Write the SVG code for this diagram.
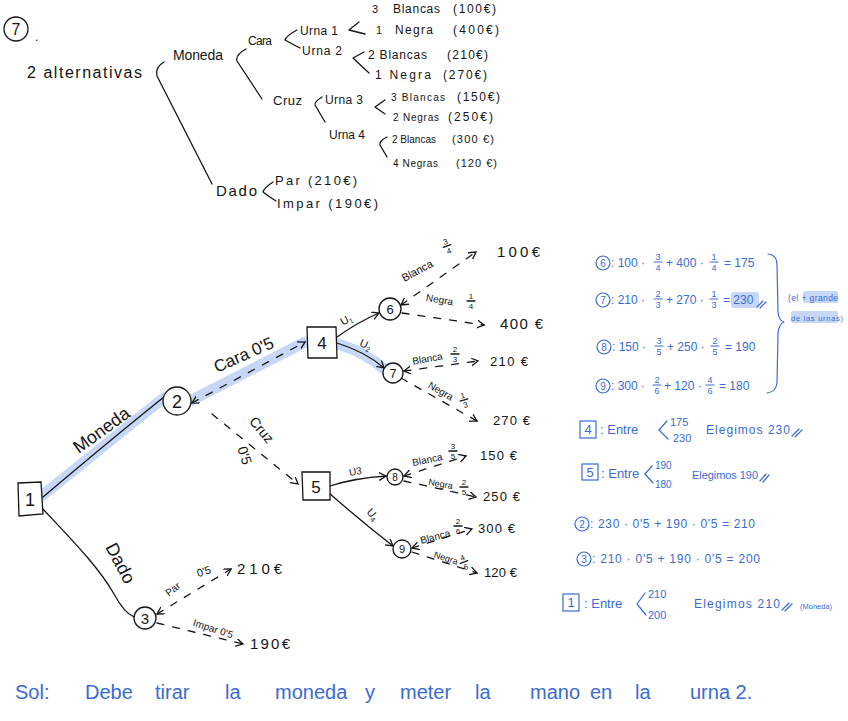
<svg xmlns="http://www.w3.org/2000/svg" width="848" height="721" viewBox="0 0 848 721">
<style>
.k{font-family:"Liberation Sans",Arial,sans-serif;fill:#151515}
.b{font-family:"Liberation Sans",Arial,sans-serif;fill:#3a6bd4}
.ln{fill:none;stroke:#151515;stroke-width:1.3;stroke-linecap:round;stroke-linejoin:round}
.bl{fill:none;stroke:#3a6bd4;stroke-width:1.2;stroke-linecap:round;stroke-linejoin:round}
.d{fill:none;stroke:#151515;stroke-width:1.3;stroke-dasharray:7 9;stroke-linecap:round}
.nd{fill:#fff;stroke:#151515;stroke-width:1.3}
.bn{fill:none;stroke:#3a6bd4;stroke-width:1.2}
.hl{fill:none;stroke:#c7d8f7;stroke-width:11;stroke-linecap:round;stroke-linejoin:round}
.hr{fill:#c7d8f7}
.m{text-anchor:middle}
</style>
<defs>
<marker id="ar" markerWidth="10" markerHeight="10" refX="7" refY="4" orient="auto-start-reverse" markerUnits="userSpaceOnUse">
<path d="M0,0 L7,4 L0,8" fill="none" stroke="#151515" stroke-width="1.3"/>
</marker>
</defs>

<!-- ===== Top outline ===== -->
<g id="outline">
<circle cx="16" cy="29" r="12" class="ln"/>
<text x="16" y="35" class="k m" font-size="16">7</text>
<text x="35" y="41" class="k" font-size="12">.</text>
<text x="27" y="78" class="k" font-size="16" textLength="115">2 alternativas</text>
<path class="ln" d="M164,62 Q155,67 157,76 L212,184"/>
<text x="173" y="60" class="k" font-size="14" textLength="50">Moneda</text>
<path class="ln" d="M246,49 Q235,55 237,61 L262,99"/>
<text x="248" y="45" class="k" font-size="12" textLength="24">Cara</text>
<path class="ln" d="M297,30 Q286,36 285,40 Q292,44 300,48"/>
<text x="300" y="35" class="k" font-size="12" textLength="38">Urna 1</text>
<text x="302" y="55" class="k" font-size="12" textLength="40">Urna 2</text>
<path class="ln" d="M359,22 L349,30 L365,34"/>
<text x="372" y="13" class="k" font-size="11">3</text>
<text x="393" y="13" class="k" font-size="12" textLength="47">Blancas</text>
<text x="453" y="13" class="k" font-size="12" textLength="43">(100€)</text>
<text x="376" y="34" class="k" font-size="11">1</text>
<text x="395" y="34" class="k" font-size="12" textLength="38">Negra</text>
<text x="453" y="34" class="k" font-size="12" textLength="46">(400€)</text>
<path class="ln" d="M364,52 L353,58 L369,73"/>
<text x="368" y="59" class="k" font-size="12" textLength="59">2 Blancas</text>
<text x="447" y="59" class="k" font-size="12" textLength="41">(210€)</text>
<text x="375" y="79" class="k" font-size="12" textLength="56">1 Negra</text>
<text x="443" y="79" class="k" font-size="12" textLength="44">(270€)</text>
<text x="273" y="105" class="k" font-size="13" textLength="29">Cruz</text>
<path class="ln" d="M322,97 Q314,102 315,105 L325,122"/>
<text x="325" y="104" class="k" font-size="12" textLength="38">Urna 3</text>
<text x="329" y="139" class="k" font-size="12" textLength="36">Urna 4</text>
<path class="ln" d="M385,100 L375,107 L385,114"/>
<text x="391" y="101" class="k" font-size="10" textLength="54">3 Blancas</text>
<text x="457" y="101" class="k" font-size="12" textLength="43">(150€)</text>
<text x="393" y="121" class="k" font-size="10" textLength="46">2 Negras</text>
<text x="448" y="121" class="k" font-size="12" textLength="45">(250€)</text>
<path class="ln" d="M387,137 Q379,141 380,145 L387,157"/>
<text x="392" y="143" class="k" font-size="10" textLength="44">2 Blancas</text>
<text x="452" y="143" class="k" font-size="11" textLength="42">(300 €)</text>
<text x="393" y="167" class="k" font-size="10" textLength="45">4 Negras</text>
<text x="456" y="167" class="k" font-size="11" textLength="41">(120 €)</text>
<text x="216" y="196" class="k" font-size="15" textLength="41">Dado</text>
<path class="ln" d="M273,182 Q264,188 263,192 Q268,196 276,201"/>
<text x="275" y="185" class="k" font-size="13" textLength="82">Par  (210€)</text>
<text x="277" y="208" class="k" font-size="13" textLength="101">Impar  (190€)</text>
</g>

<!-- ===== Highlight of the chosen path ===== -->
<path class="hl" d="M40,497 C75,470 125,428 164,398 L192,400 L305,342 L338,344 Q365,352 384,369"/>

<!-- ===== Connectors ===== -->
<g id="connectors">
<path class="ln" d="M43,497 C75,470 125,428 164,397"/>
<path class="ln" d="M42,508 C70,538 98,566 114,594 C121,607 127,614 134,617"/>
<path class="d" d="M192,403 L305,342" marker-start="url(#ar)" marker-end="url(#ar)"/>
<path class="d" d="M212,414 L298,484" marker-end="url(#ar)"/>
<path class="ln" d="M337,337 Q358,322 379,313" marker-end="url(#ar)"/>
<path class="ln" d="M337,343 Q366,352 384,368" marker-end="url(#ar)"/>
<path class="ln" d="M330,486 Q355,478 386,476" marker-end="url(#ar)"/>
<path class="ln" d="M329,493 Q362,522 393,546" marker-end="url(#ar)"/>
<path class="d" d="M401,305 L476,252" marker-start="url(#ar)" marker-end="url(#ar)"/>
<path class="d" d="M402,313 L484,325" marker-end="url(#ar)"/>
<path class="d" d="M404,371 L478,361" marker-start="url(#ar)" marker-end="url(#ar)"/>
<path class="d" d="M401,378 L477,421" marker-end="url(#ar)"/>
<path class="d" d="M404,476 L466,456" marker-start="url(#ar)" marker-end="url(#ar)"/>
<path class="d" d="M404,481 L476,497" marker-end="url(#ar)"/>
<path class="d" d="M412,548 L472,529" marker-start="url(#ar)" marker-end="url(#ar)"/>
<path class="d" d="M412,552 L477,573" marker-end="url(#ar)"/>
<path class="d" d="M157,614 L231,569" marker-start="url(#ar)" marker-end="url(#ar)"/>
<path class="d" d="M157,623 L243,644" marker-end="url(#ar)"/>
</g>

<!-- ===== Edge labels ===== -->
<g id="edge-labels">
<text transform="translate(105,435) rotate(-36)" class="k m" font-size="18">Moneda</text>
<text transform="translate(246,360) rotate(-24)" class="k m" font-size="17">Cara 0'5</text>
<text transform="translate(258,433) rotate(50)" class="k m" font-size="14">Cruz</text>
<text transform="translate(240,457) rotate(72)" class="k m" font-size="14">0'5</text>
<text transform="translate(115,566) rotate(62)" class="k m" font-size="18">Dado</text>
<text transform="translate(348,323) rotate(-28)" class="k m" font-size="11">U<tspan font-size="7" dy="2">1</tspan></text>
<text transform="translate(364,348) rotate(25)" class="k m" font-size="11">U<tspan font-size="7" dy="2">2</tspan></text>
<text transform="translate(356,475) rotate(-10)" class="k m" font-size="10">U3</text>
<text transform="translate(370,517) rotate(48)" class="k m" font-size="11">U<tspan font-size="7" dy="2">4</tspan></text>
<text transform="translate(419,274) rotate(-28)" class="k m" font-size="11">Blanca</text>
<text transform="translate(439,303) rotate(10)" class="k m" font-size="10">Negra</text>
<text transform="translate(428,362) rotate(-10)" class="k m" font-size="10">Blanca</text>
<text transform="translate(439,394) rotate(30)" class="k m" font-size="10">Negra</text>
<text transform="translate(428,463) rotate(-12)" class="k m" font-size="10">Blanca</text>
<text transform="translate(440,487) rotate(10)" class="k m" font-size="9">Negra</text>
<text transform="translate(436,540) rotate(-15)" class="k m" font-size="10">Blanca</text>
<text transform="translate(445,561) rotate(18)" class="k m" font-size="9">Negra</text>
<text transform="translate(175,592) rotate(-38)" class="k m" font-size="10">Par</text>
<text transform="translate(205,575) rotate(-18)" class="k m" font-size="11">0'5</text>
<text transform="translate(212,632) rotate(18)" class="k m" font-size="10">Impar 0'5</text>
<!-- fractions -->
<g transform="translate(447,246) rotate(-20)"><text y="-2" class="k m" font-size="8">3</text><line x1="-4" y1="0" x2="4" y2="0" class="ln" stroke-width="1"/><text y="8" class="k m" font-size="8">4</text></g>
<g transform="translate(471,301)"><text y="-2" class="k m" font-size="8">1</text><line x1="-4" y1="0" x2="4" y2="0" class="ln" stroke-width="1"/><text y="8" class="k m" font-size="8">4</text></g>
<g transform="translate(455,354)"><text y="-2" class="k m" font-size="8">2</text><line x1="-4" y1="0" x2="4" y2="0" class="ln" stroke-width="1"/><text y="8" class="k m" font-size="8">3</text></g>
<g transform="translate(464,400) rotate(-15)"><text y="-2" class="k m" font-size="8">1</text><line x1="-4" y1="0" x2="4" y2="0" class="ln" stroke-width="1"/><text y="8" class="k m" font-size="8">3</text></g>
<g transform="translate(453,451)"><text y="-2" class="k m" font-size="8">3</text><line x1="-4" y1="0" x2="4" y2="0" class="ln" stroke-width="1"/><text y="8" class="k m" font-size="8">5</text></g>
<g transform="translate(464,487)"><text y="-2" class="k m" font-size="8">2</text><line x1="-4" y1="0" x2="4" y2="0" class="ln" stroke-width="1"/><text y="8" class="k m" font-size="8">5</text></g>
<g transform="translate(458,526)"><text y="-2" class="k m" font-size="8">2</text><line x1="-4" y1="0" x2="4" y2="0" class="ln" stroke-width="1"/><text y="8" class="k m" font-size="8">6</text></g>
<g transform="translate(464,562) rotate(-20)"><text y="-2" class="k m" font-size="8">4</text><line x1="-4" y1="0" x2="4" y2="0" class="ln" stroke-width="1"/><text y="8" class="k m" font-size="8">6</text></g>
</g>

<!-- ===== Outcomes ===== -->
<g id="outcomes">
<text x="497" y="257" class="k" font-size="15" textLength="43">100€</text>
<text x="500" y="329" class="k" font-size="15" textLength="43">400 €</text>
<text x="490" y="366" class="k" font-size="13" textLength="38">210 €</text>
<text x="493" y="425" class="k" font-size="13" textLength="37">270 €</text>
<text x="480" y="460" class="k" font-size="13" textLength="37">150 €</text>
<text x="483" y="501" class="k" font-size="13" textLength="37">250 €</text>
<text x="478" y="533" class="k" font-size="13" textLength="37">300 €</text>
<text x="484" y="577" class="k" font-size="13" textLength="33">120 €</text>
<text x="237" y="574" class="k" font-size="15" textLength="45">210€</text>
<text x="250" y="649" class="k" font-size="15" textLength="40">190€</text>
</g>

<!-- ===== Nodes ===== -->
<g id="node1"><path class="nd" d="M18,483 L41,482 L43,514 L19,516 Z"/><text x="30" y="506" class="k m" font-size="18">1</text></g>
<g id="node2"><circle class="nd" cx="177" cy="401" r="14"/><text x="177" y="408" class="k m" font-size="18">2</text></g>
<g id="node3"><circle class="nd" cx="145" cy="618" r="11"/><text x="145" y="624" class="k m" font-size="15">3</text></g>
<g id="node4"><path class="nd" d="M307,327 L336,327 L337,358 L308,358 Z"/><text x="322" y="349" class="k m" font-size="17">4</text></g>
<g id="node5"><path class="nd" d="M302,472 L330,472 L330,500 L303,500 Z"/><text x="316" y="493" class="k m" font-size="17">5</text></g>
<g id="node6"><circle class="nd" cx="390" cy="309" r="11"/><text x="390" y="314" class="k m" font-size="13">6</text></g>
<g id="node7"><circle class="nd" cx="393" cy="373" r="10"/><text x="393" y="378" class="k m" font-size="12">7</text></g>
<g id="node8"><circle class="nd" cx="395" cy="477" r="8"/><text x="395" y="481" class="k m" font-size="10">8</text></g>
<g id="node9"><circle class="nd" cx="402" cy="549" r="9"/><text x="402" y="553" class="k m" font-size="11">9</text></g>

<!-- ===== Calculations (blue) ===== -->
<g id="calcs">
<circle class="bn" cx="603" cy="263" r="7"/><text x="603" y="267" class="b m" font-size="10">6</text>
<text x="611" y="267" class="b" font-size="12">: 100 ·</text>
<g transform="translate(658,262)"><text y="-2" class="b m" font-size="9">3</text><line x1="-4" y1="0" x2="4" y2="0" class="bl"/><text y="9" class="b m" font-size="9">4</text></g>
<text x="666" y="267" class="b" font-size="12">+ 400 ·</text>
<g transform="translate(714,262)"><text y="-2" class="b m" font-size="9">1</text><line x1="-4" y1="0" x2="4" y2="0" class="bl"/><text y="9" class="b m" font-size="9">4</text></g>
<text x="724" y="267" class="b" font-size="12">= 175</text>

<circle class="bn" cx="603" cy="300" r="7"/><text x="603" y="304" class="b m" font-size="10">7</text>
<text x="611" y="304" class="b" font-size="12">: 210 ·</text>
<g transform="translate(658,299)"><text y="-2" class="b m" font-size="9">2</text><line x1="-4" y1="0" x2="4" y2="0" class="bl"/><text y="9" class="b m" font-size="9">3</text></g>
<text x="666" y="304" class="b" font-size="12">+ 270 ·</text>
<g transform="translate(714,299)"><text y="-2" class="b m" font-size="9">1</text><line x1="-4" y1="0" x2="4" y2="0" class="bl"/><text y="9" class="b m" font-size="9">3</text></g>
<rect class="hr" x="731" y="292" width="28" height="16" rx="3"/>
<text x="723" y="304" class="b" font-size="12">= 230</text>
<path class="bl" d="M757,307 L763,301 M760,308 L766,302"/>

<circle class="bn" cx="604" cy="347" r="7"/><text x="604" y="351" class="b m" font-size="10">8</text>
<text x="612" y="351" class="b" font-size="12">: 150 ·</text>
<g transform="translate(659,346)"><text y="-2" class="b m" font-size="9">3</text><line x1="-4" y1="0" x2="4" y2="0" class="bl"/><text y="9" class="b m" font-size="9">5</text></g>
<text x="667" y="351" class="b" font-size="12">+ 250 ·</text>
<g transform="translate(715,346)"><text y="-2" class="b m" font-size="9">2</text><line x1="-4" y1="0" x2="4" y2="0" class="bl"/><text y="9" class="b m" font-size="9">5</text></g>
<text x="725" y="351" class="b" font-size="12">= 190</text>

<circle class="bn" cx="603" cy="386" r="7"/><text x="603" y="390" class="b m" font-size="10">9</text>
<text x="611" y="390" class="b" font-size="12">: 300 ·</text>
<g transform="translate(657,385)"><text y="-2" class="b m" font-size="9">2</text><line x1="-4" y1="0" x2="4" y2="0" class="bl"/><text y="9" class="b m" font-size="9">6</text></g>
<text x="664" y="390" class="b" font-size="12">+ 120 ·</text>
<g transform="translate(710,385)"><text y="-2" class="b m" font-size="9">4</text><line x1="-4" y1="0" x2="4" y2="0" class="bl"/><text y="9" class="b m" font-size="9">6</text></g>
<text x="719" y="390" class="b" font-size="12">= 180</text>

<path class="bl" d="M768,254 Q777,255 777,265 L778,312 Q779,321 784,322 Q779,324 778,333 L777,383 Q776,392 767,393"/>
<rect class="hr" x="803" y="291" width="35" height="12" rx="2"/>
<rect class="hr" x="791" y="311" width="47" height="12" rx="2"/>
<text x="788" y="301" class="b" font-size="8.5" textLength="50">(el + grande</text>
<text x="791" y="321" class="b" font-size="7.5" textLength="52">de las urnas)</text>

<rect class="bn" x="580" y="421" width="16" height="17"/><text x="588" y="434" class="b m" font-size="13">4</text>
<text x="600" y="434" class="b" font-size="13">: Entre</text>
<path class="bl" d="M667,421 L659,430 L668,439"/>
<text x="670" y="426" class="b" font-size="11">175</text>
<text x="673" y="442" class="b" font-size="11">230</text>
<text x="706" y="434" class="b" font-size="12" textLength="84">Elegimos 230</text>
<path class="bl" d="M792,436 L799,429 M795,437 L802,430"/>

<rect class="bn" x="582" y="464" width="16" height="16"/><text x="590" y="477" class="b m" font-size="13">5</text>
<text x="601" y="478" class="b" font-size="13">: Entre</text>
<path class="bl" d="M652,466 L645,474 L653,483"/>
<text x="655" y="469" class="b" font-size="10">190</text>
<text x="655" y="488" class="b" font-size="10">180</text>
<text x="692" y="479" class="b" font-size="11" textLength="66">Elegimos 190</text>
<path class="bl" d="M760,481 L766,474 M763,482 L769,475"/>

<circle class="bn" cx="582" cy="524" r="7"/><text x="582" y="528" class="b m" font-size="10">2</text>
<text x="590" y="528" class="b" font-size="12" textLength="165">: 230 · 0'5 + 190 · 0'5 = 210</text>
<circle class="bn" cx="584" cy="559" r="7"/><text x="584" y="563" class="b m" font-size="10">3</text>
<text x="592" y="563" class="b" font-size="12" textLength="168">: 210 · 0'5 + 190 · 0'5 = 200</text>

<rect class="bn" x="563" y="594" width="16" height="17"/><text x="571" y="607" class="b m" font-size="13">1</text>
<text x="584" y="608" class="b" font-size="13">: Entre</text>
<path class="bl" d="M645,593 L637,604 L646,615"/>
<text x="648" y="598" class="b" font-size="11">210</text>
<text x="648" y="619" class="b" font-size="11">200</text>
<text x="694" y="608" class="b" font-size="12" textLength="86">Elegimos 210</text>
<path class="bl" d="M782,610 L789,603 M785,611 L792,604"/>
<text x="800" y="609" class="b" font-size="7.5">(Moneda)</text>
</g>

<!-- ===== Solution ===== -->
<text y="699" class="b" font-size="20"><tspan x="15">Sol:</tspan><tspan x="85">Debe</tspan><tspan x="155">tirar</tspan><tspan x="225">la</tspan><tspan x="275">moneda</tspan><tspan x="365">y</tspan><tspan x="400">meter</tspan><tspan x="475">la</tspan><tspan x="530">mano</tspan><tspan x="590">en</tspan><tspan x="635">la</tspan><tspan x="690">urna 2.</tspan></text>
</svg>
